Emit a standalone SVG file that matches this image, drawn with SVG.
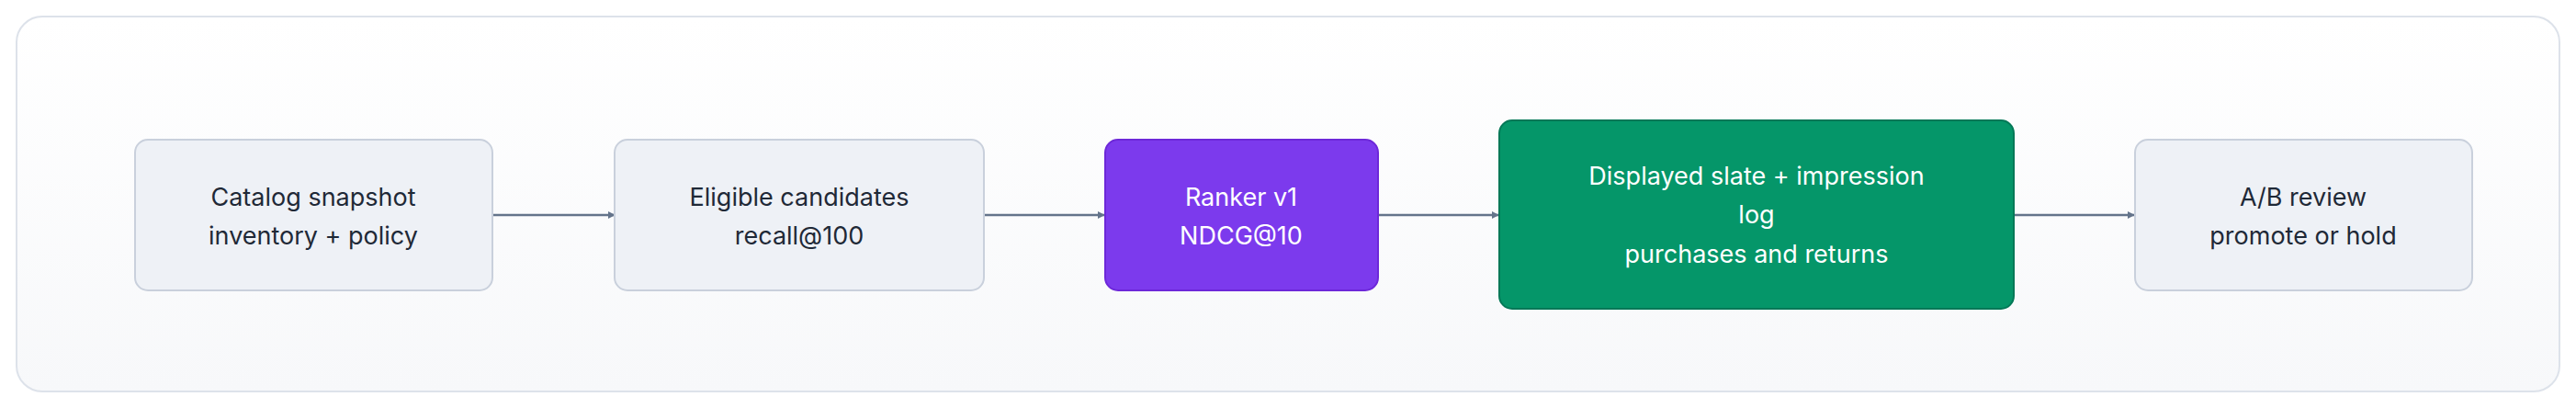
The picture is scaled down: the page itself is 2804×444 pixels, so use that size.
<svg xmlns="http://www.w3.org/2000/svg" width="2804" height="444" viewBox="0 0 2804 444">
<style>
.n{fill:#eef1f6;stroke:#c9d0dc;stroke-width:2}
.t{font-family:Inter,"Liberation Sans",sans-serif;font-size:27px;text-anchor:middle;fill:#1f2937}
.w{fill:#ffffff}
.c{stroke:#64748b;stroke-width:2.5;fill:none;marker-end:url(#a)}
</style>
<defs>
<linearGradient id="bg" x1="0" y1="0" x2="0" y2="1"><stop offset="0" stop-color="#ffffff"/><stop offset="1" stop-color="#f7f8fa"/></linearGradient>
<marker id="a" viewBox="0 0 10 10" refX="9" refY="5" markerWidth="8" markerHeight="8" orient="auto" markerUnits="userSpaceOnUse"><path d="M0,0L10,5L0,10z" fill="#64748b"/></marker>
</defs>
<rect x="0" y="0" width="2804" height="444" fill="#ffffff"/>
<rect x="18" y="18" width="2768" height="408" rx="28" fill="url(#bg)" stroke="#dde2ea" stroke-width="2"/>
<g id="connectors">
<path class="c" d="M537,234H669"/>
<path class="c" d="M1072,234H1202"/>
<path class="c" d="M1501,234H1631"/>
<path class="c" d="M2193,234H2323"/>
</g>
<g id="n1"><rect class="n" x="147" y="152" width="389" height="164" rx="14"/><text class="t" x="341" y="224">Catalog snapshot</text><text class="t" x="341" y="266">inventory + policy</text></g>
<g id="n2"><rect class="n" x="669" y="152" width="402" height="164" rx="14"/><text class="t" x="870" y="224">Eligible candidates</text><text class="t" x="870" y="266">recall@100</text></g>
<g id="n3"><rect x="1203" y="152" width="297" height="164" rx="14" fill="#7c3aed" stroke="#6d28d9" stroke-width="2"/><text class="t w" x="1351" y="224">Ranker v1</text><text class="t w" x="1351" y="266">NDCG@10</text></g>
<g id="n4"><rect x="1632" y="131" width="560" height="205" rx="14" fill="#059669" stroke="#047857" stroke-width="2"/><text class="t w" x="1912" y="201">Displayed slate + impression</text><text class="t w" x="1912" y="243">log</text><text class="t w" x="1912" y="286">purchases and returns</text></g>
<g id="n5"><rect class="n" x="2324" y="152" width="367" height="164" rx="14"/><text class="t" x="2507" y="224">A/B review</text><text class="t" x="2507" y="266">promote or hold</text></g>
</svg>
